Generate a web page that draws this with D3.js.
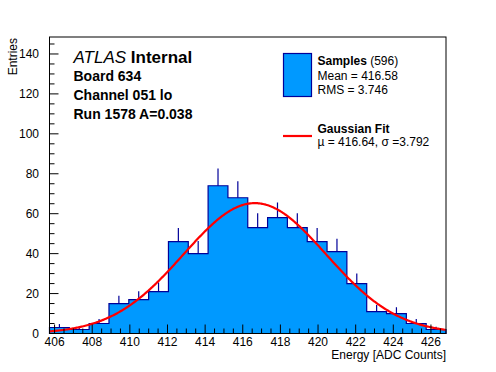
<!DOCTYPE html>
<html>
<head>
<meta charset="utf-8">
<script src="https://cdn.jsdelivr.net/npm/d3@7"></script>
<style>
  body { margin: 0; background: #fff; }
  svg { display: block; font-family: "Liberation Sans", Arial, sans-serif; }
</style>
</head>
<body>
<div id="chart"></div>
<script>
// Histogram contents (20 bins between the axis limits)
const binLo = 405.73, binHi = 426.8;
const counts = [3, 2, 5, 15, 17, 21, 46, 40, 74, 68, 53, 58, 53, 46, 41, 25, 11, 10, 5, 2];
const xTicks = [406, 408, 410, 412, 414, 416, 418, 420, 422, 424, 426];
const yTicks = [0, 20, 40, 60, 80, 100, 120, 140];
// Gaussian fit parameters (peak height)
const fitMu = 416.64, fitSigma = 3.792, fitAmp = 65.3;
const infoLines = ["Board 634", "Channel 051 lo", "Run 1578 A=0.038"];

const width = 496, height = 372;
const margin = {top: 37, right: 50, bottom: 38.5, left: 49.5};

const svg = d3.select("#chart").append("svg")
  .attr("width", width)
  .attr("height", height);

const x = d3.scaleLinear()
  .domain([binLo, binHi])
  .range([margin.left, width - margin.right]);

const y = d3.scaleLinear()
  .domain([0, 148.5])
  .range([height - margin.bottom, margin.top]);

const binW = (binHi - binLo) / counts.length;
const bins = counts.map((c, i) => ({x0: binLo + i * binW, x1: binLo + (i + 1) * binW, n: c}));

// Histogram as filled step outline
let d = `M${x(binLo)},${y(0)}`;
bins.forEach(b => { d += `V${y(b.n)}H${x(b.x1)}`; });
d += `V${y(0)}Z`;

svg.append("path")
  .attr("d", d)
  .attr("fill", "#0099ff")
  .attr("stroke", "#000099")
  .attr("stroke-width", 1.2);

// Upper error bars
svg.append("g")
  .selectAll("line")
  .data(bins)
  .enter().append("line")
  .attr("x1", b => x((b.x0 + b.x1) / 2))
  .attr("x2", b => x((b.x0 + b.x1) / 2))
  .attr("y1", b => y(b.n))
  .attr("y2", b => y(b.n + Math.sqrt(b.n)))
  .attr("stroke", "#000099")
  .attr("stroke-width", 1.2);

// Fit curve
const gauss = v => fitAmp * Math.exp(-0.5 * ((v - fitMu) / fitSigma) ** 2);
const line = d3.line()
  .x(v => x(v))
  .y(v => y(gauss(v)));

svg.append("path")
  .datum(d3.range(binLo, binHi + 0.001, 0.05))
  .attr("d", line)
  .attr("fill", "none")
  .attr("stroke", "#ff0000")
  .attr("stroke-width", 2.2);

// Frame
svg.append("rect")
  .attr("x", margin.left)
  .attr("y", margin.top)
  .attr("width", width - margin.right - margin.left)
  .attr("height", height - margin.bottom - margin.top)
  .attr("fill", "none")
  .attr("stroke", "#000")
  .attr("stroke-width", 1);

// X axis: ticks point up into the frame
const xMinor = d3.range(406, 427, 0.5).filter(v => v < binHi);
svg.append("g")
  .selectAll("line")
  .data(xMinor)
  .enter().append("line")
  .attr("x1", v => x(v))
  .attr("x2", v => x(v))
  .attr("y1", y(0))
  .attr("y2", v => y(0) - (xTicks.includes(v) ? 9 : 5))
  .attr("stroke", "#000");

svg.append("g")
  .selectAll("text")
  .data(xTicks)
  .enter().append("text")
  .attr("x", v => x(v))
  .attr("y", 346)
  .attr("text-anchor", "middle")
  .style("font-size", "12px")
  .text(v => v);

svg.append("text")
  .attr("x", width - margin.right)
  .attr("y", 358.5)
  .attr("text-anchor", "end")
  .style("font-size", "12px")
  .text("Energy [ADC Counts]");

// Y axis: ticks point right into the frame
const yMinor = d3.range(0, 148, 5);
svg.append("g")
  .selectAll("line")
  .data(yMinor)
  .enter().append("line")
  .attr("x1", margin.left)
  .attr("x2", v => margin.left + (v % 20 === 0 ? 9 : 5))
  .attr("y1", v => y(v))
  .attr("y2", v => y(v))
  .attr("stroke", "#000");

svg.append("g")
  .selectAll("text")
  .data(yTicks)
  .enter().append("text")
  .attr("x", 39)
  .attr("y", v => y(v) + 4.3)
  .attr("text-anchor", "end")
  .style("font-size", "12px")
  .text(v => v);

svg.append("text")
  .attr("transform", "translate(16.5,38) rotate(-90)")
  .attr("text-anchor", "end")
  .style("font-size", "12px")
  .text("Entries");

// ATLAS label block
const atlas = svg.append("text")
  .attr("x", 73.5)
  .attr("y", 63.3)
  .style("font-size", "17px");
atlas.append("tspan").style("font-style", "italic").text("ATLAS");
atlas.append("tspan").style("font-weight", "bold").text(" Internal");

svg.append("g")
  .selectAll("text")
  .data(infoLines)
  .enter().append("text")
  .attr("x", 73.5)
  .attr("y", (t, i) => 81 + i * 19)
  .style("font-size", "14px")
  .style("font-weight", "bold")
  .text(t => t);

// Legend
svg.append("rect")
  .attr("x", 283.5)
  .attr("y", 53.5)
  .attr("width", 28)
  .attr("height", 43)
  .attr("fill", "#0099ff")
  .attr("stroke", "#000099")
  .attr("stroke-width", 1.2);

const s = svg.append("text")
  .attr("x", 317.5)
  .attr("y", 65)
  .style("font-size", "12px");
s.append("tspan").style("font-weight", "bold").text("Samples");
s.append("tspan").text(" (596)");

svg.append("text").attr("x", 317.5).attr("y", 80).style("font-size", "12px").text("Mean = 416.58");
svg.append("text").attr("x", 317.5).attr("y", 93.5).style("font-size", "12px").text("RMS = 3.746");

svg.append("line")
  .attr("x1", 283).attr("x2", 312)
  .attr("y1", 136).attr("y2", 136)
  .attr("stroke", "#ff0000")
  .attr("stroke-width", 2.2);

svg.append("text").attr("x", 317.5).attr("y", 132.5)
  .style("font-size", "12px").style("font-weight", "bold").text("Gaussian Fit");
svg.append("text").attr("x", 317.5).attr("y", 146)
  .style("font-size", "12px").text("\u00b5 = 416.64, \u03c3 =3.792");
</script>
</body>
</html>
